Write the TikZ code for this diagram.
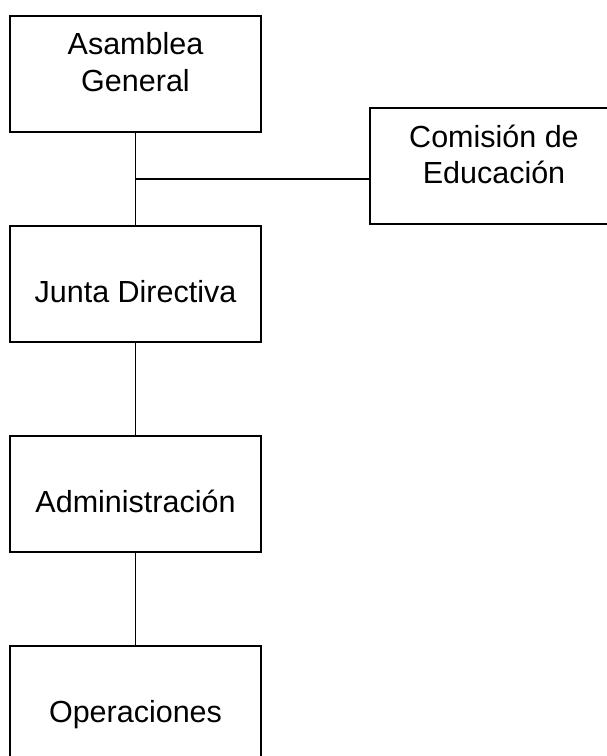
\documentclass[tikz,border=0pt]{standalone}
\usepackage{fontspec}
\setmainfont{Liberation Sans}
\begin{document}
\begin{tikzpicture}[x=1pt,y=-1pt,
  orgbox/.style={draw=black,line width=1.8pt,minimum width=251pt,minimum height=116pt,inner sep=0pt,fill=white},
  lbl/.style={anchor=base,inner sep=0pt,font=\fontsize{30.5}{35}\selectfont},
  link/.style={draw=black,line width=1.8pt}]
\useasboundingbox (0,0) rectangle (607,756);
\begin{scope}
\clip (0,0) rectangle (607,756);
\node[orgbox] (ag) at (135.5,74) {};
\node[orgbox] (ce) at (495.5,166) {};
\node[orgbox] (jd) at (135.5,284) {};
\node[orgbox] (ad) at (135.5,494) {};
\node[orgbox] (op) at (135.5,704) {};
\coordinate (j) at (135.5,179);
\draw[link] (ag.south) -- (jd.north);
\draw[link] (j) -- (j -| ce.west);
\draw[link] (jd.south) -- (ad.north);
\draw[link] (ad.south) -- (op.north);
\node[lbl] (t1) at (135.5,54) {Asamblea};
\node[lbl] (t2) at (135.5,91) {General};
\node[lbl] (t3) at (494,147) {Comisión de};
\node[lbl] (t4) at (494,183) {Educación};
\node[lbl] (t5) at (135.5,302) {Junta Directiva};
\node[lbl] (t6) at (135.5,512) {Administración};
\node[lbl] (t7) at (135.5,722) {Operaciones};
\end{scope}
\end{tikzpicture}
\end{document}
